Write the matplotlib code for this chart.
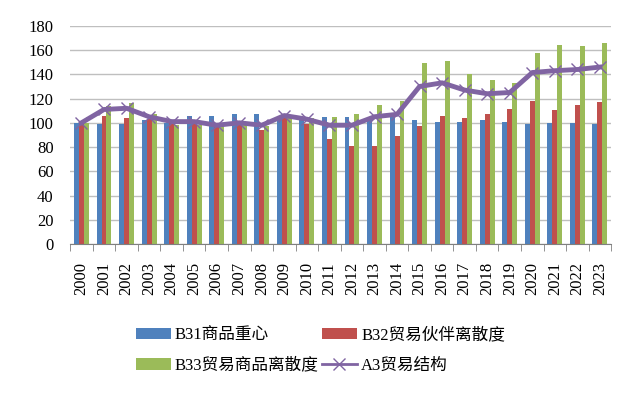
import matplotlib.pyplot as plt
from matplotlib.lines import Line2D
import numpy as np

plt.rcParams['font.family'] = ['Liberation Serif', 'Noto Sans CJK SC']

years = [str(y) for y in range(2000, 2024)]
b31 = [100, 99, 99, 102, 100, 106, 106, 107, 107, 105, 102, 105,
       105, 102, 105, 102.5, 101, 101, 102.5, 101, 99, 100, 100, 99]
b32 = [100, 106, 104, 103, 100, 100, 97, 100, 94, 104, 99, 87,
       80.5, 80.5, 89, 97.5, 106, 104, 107, 111.5, 118, 110.5, 115, 117]
b33 = [100, 114, 116, 107, 98, 98, 97, 98, 97, 105, 104, 105,
       107, 115, 118, 149, 151, 140, 135.5, 133, 157.5, 164, 163.5, 165.5]
a3 = [100, 111, 112, 105, 101, 101, 98, 100, 98, 106, 103, 98,
      98, 105, 107, 130, 133, 127, 124, 125, 141.5, 143, 144, 146]

labels = ['B31商品重心', 'B32贸易伙伴离散度', 'B33贸易商品离散度', 'A3贸易结构']
colors = ['#4F81BD', '#C0504D', '#9BBB59', '#8064A2']

fig = plt.figure(figsize=(6.38, 3.98), dpi=100)
ax = fig.add_axes([0.11, 0.387, 0.848, 0.548])

x = np.arange(len(years))
w = 0.22
h1 = ax.bar(x - w, b31, w, color=colors[0], zorder=2)
h2 = ax.bar(x, b32, w, color=colors[1], zorder=2)
h3 = ax.bar(x + w, b33, w, color=colors[2], zorder=2)
ax.plot(x, a3, color=colors[3], lw=3.5, marker='x', markersize=9,
        markeredgewidth=1, zorder=3)
h4 = Line2D([], [], color=colors[3], lw=2, marker='x', markersize=9,
            markeredgewidth=1)

ax.set_ylim(0, 180)
ax.set_yticks(range(0, 181, 20))
ax.set_xlim(-0.5, len(years) - 0.5)
ax.set_xticks(x)
ax.set_xticklabels(years, rotation=90, fontsize=12)
ax.set_xticks(np.arange(-0.5, len(years), 1), minor=True)
ax.tick_params(axis='x', which='major', length=0, pad=13)
ax.tick_params(axis='x', which='minor', length=5, color='#808080')
ax.tick_params(axis='y', length=0, labelsize=12, pad=12)
ax.grid(axis='y', color='#BFBFBF', lw=1, zorder=0)
for s in ['top', 'right', 'left']:
    ax.spines[s].set_visible(False)
ax.spines['bottom'].set_color('#808080')

# legend fills column by column, so reorder to get rows B31/B32, B33/A3
fig.legend([h1, h3, h2, h4], [labels[0], labels[2], labels[1], labels[3]],
           loc='upper left', bbox_to_anchor=(0.189, 0.215), ncol=2, frameon=False,
           fontsize=12, handlelength=2.1, handletextpad=0.25, columnspacing=0.2,
           labelspacing=0.85)

fig.savefig('out.png', dpi=100)
